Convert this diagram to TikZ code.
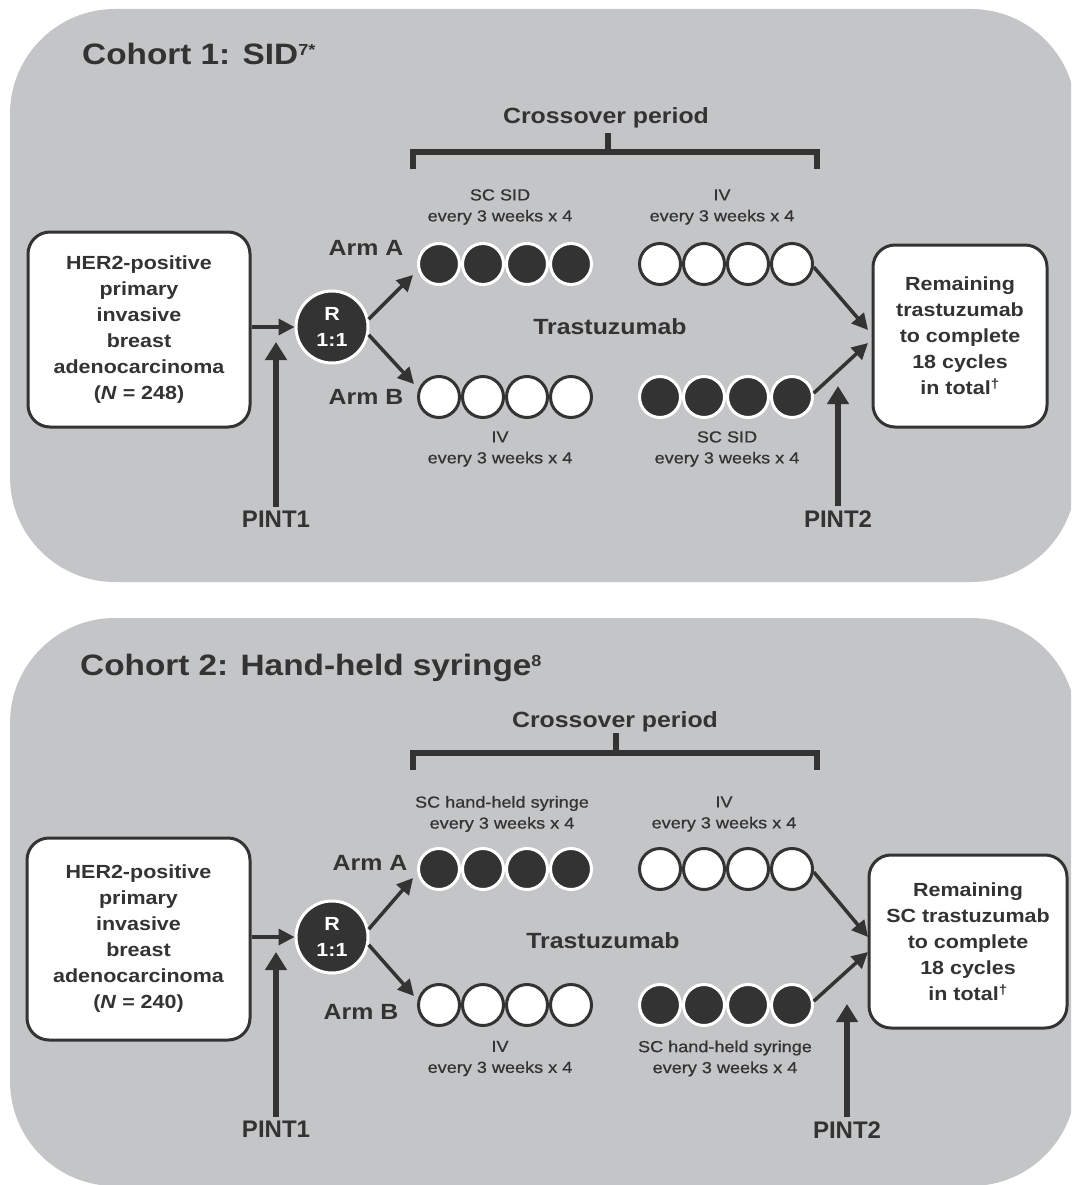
\documentclass[tikz,border=0pt]{standalone}
\usepackage{fontspec}
\setmainfont[FakeStretch=1.13]{Liberation Sans}
\newfontfamily\pintfont{Liberation Sans}
\newfontfamily\medfont[FakeStretch=1.13,FakeBold=0.7]{Liberation Sans}
\usetikzlibrary{arrows.meta}
\definecolor{panel}{RGB}{196,197,199}
\definecolor{ink}{RGB}{51,51,51}
\newcommand{\supsmall}[1]{\raisebox{9pt}{\fontsize{16}{16}\selectfont #1}}
\begin{document}
\begin{tikzpicture}[x=1pt,y=-1pt,
  every node/.style={text=ink},
  title/.style={font=\fontsize{29.5}{34}\selectfont\bfseries, anchor=base west, inner sep=0pt},
  cross/.style={font=\fontsize{22}{26}\selectfont\bfseries},
  arm/.style={font=\fontsize{22}{26}\selectfont\bfseries},
  small/.style={font=\medfont\fontsize{16}{21}\selectfont, align=center},
  boxtxt/.style={draw=ink, line width=3pt, fill=white, rounded corners=22pt, align=center, inner sep=0pt, font=\fontsize{19}{26}\selectfont\bfseries},
  rnode/.style={circle, fill=ink, draw=white, line width=3pt, minimum size=72pt, inner sep=0pt, align=center, text=white, font=\fontsize{19}{26}\selectfont\bfseries},
  dosefull/.style={circle, fill=ink, draw=white, line width=3pt, minimum size=41pt, inner sep=0pt},
  doseopen/.style={circle, fill=white, draw=ink, line width=3pt, minimum size=41pt, inner sep=0pt},
  conn/.style={draw=ink, line width=3.5pt, -{Triangle[length=16pt,width=16pt]}},
  pintarr/.style={draw=ink, line width=6pt, -{Triangle[length=18pt,width=21pt]}},
  pint/.style={font=\pintfont\fontsize{24}{28}\selectfont\bfseries, inner sep=4pt},
  brk/.style={draw=ink, line width=6pt},
]
\clip (0,0) rectangle (1071,1185);
\fill[white] (0,0) rectangle (1071,1185);

% ================= Cohort 1 =================
\fill[panel, rounded corners=105pt] (10,9) rectangle (1076,582);
\node[title] (t1) at (82,65) {Cohort 1: SID\supsmall{7*}};
\node[cross] (cp1) at (606,118) {Crossover period};
\draw[brk] (413,169) -- (413,152) -- (817,152) -- (817,169);
\draw[brk] (608,152) -- (608,133);

\node[boxtxt, minimum width=222pt, minimum height=195pt] (her1) at (139,329.5)
  {HER2-positive\\primary\\invasive\\breast\\adenocarcinoma\\(\textit{N} = 248)};
\node[rnode] (r1) at (332,327) {R\\1:1};
\node[boxtxt, minimum width=174pt, minimum height=182pt] (rem1) at (960,336)
  {Remaining\\trastuzumab\\to complete\\18 cycles\\in total\textsuperscript{†}};

\node[arm] (armA1) at (366,248) {Arm A};
\node[arm] (armB1) at (366,397) {Arm B};
\node[arm] (tr1) at (610,327) {Trastuzumab};

\foreach \i in {1,...,4} {
  \node[dosefull] (c1a\i) at ({395+44*\i},264) {};
  \node[doseopen] (c1b\i) at ({616+44*\i},264) {};
  \node[doseopen] (c1c\i) at ({395+44*\i},397) {};
  \node[dosefull] (c1d\i) at ({616+44*\i},397) {};
}
\node[small] (l1a) at (500,207) {SC SID\\every 3 weeks x 4};
\node[small] (l1b) at (722,207) {IV\\every 3 weeks x 4};
\node[small] (l1c) at (500,449) {IV\\every 3 weeks x 4};
\node[small] (l1d) at (727,449) {SC SID\\every 3 weeks x 4};

\coordinate (tA1) at (413,275);
\coordinate (tB1) at (414,384);
\coordinate (tR1a) at (868,330);
\coordinate (tR1b) at (868,343);
\coordinate (p1tip) at (276,342);
\coordinate (p2tip) at (838,386);
\draw[conn] (her1.east |- r1.west) -- (r1.west);
\draw[conn] (r1.12) -- (tA1);
\draw[conn] (r1.-12) -- (tB1);
\draw[conn] (c1b4.-8) -- (tR1a);
\draw[conn] (c1d4.10) -- (tR1b);

\node[pint] (pint11) at (276,519) {PINT1};
\node[pint] (pint12) at (838,519) {PINT2};
\draw[pintarr] (pint11.north) -- (p1tip);
\draw[pintarr] (pint12.north) -- (p2tip);

% ================= Cohort 2 =================
\fill[panel, rounded corners=105pt] (10,618) rectangle (1076,1186);
\node[title] (t2) at (80,675) {Cohort 2: Hand-held syringe\supsmall{8}};
\node[cross] (cp2) at (615,722) {Crossover period};
\draw[brk] (413,770) -- (413,753) -- (817,753) -- (817,770);
\draw[brk] (616,753) -- (616,733);

\node[boxtxt, minimum width=223pt, minimum height=202pt] (her2) at (138.5,939)
  {HER2-positive\\primary\\invasive\\breast\\adenocarcinoma\\(\textit{N} = 240)};
\node[rnode] (r2) at (332,937) {R\\1:1};
\node[boxtxt, minimum width=198pt, minimum height=173pt] (rem2) at (968,941.5)
  {Remaining\\SC trastuzumab\\to complete\\18 cycles\\in total\textsuperscript{†}};

\node[arm] (armA2) at (370,863) {Arm A};
\node[arm] (armB2) at (361,1012) {Arm B};
\node[arm] (tr2) at (603,941) {Trastuzumab};

\foreach \i in {1,...,4} {
  \node[dosefull] (c2a\i) at ({395+44*\i},869) {};
  \node[doseopen] (c2b\i) at ({616+44*\i},869) {};
  \node[doseopen] (c2c\i) at ({395+44*\i},1005) {};
  \node[dosefull] (c2d\i) at ({616+44*\i},1005) {};
}
\node[small] (l2a) at (502,814) {SC hand-held syringe\\every 3 weeks x 4};
\node[small] (l2b) at (724,814) {IV\\every 3 weeks x 4};
\node[small] (l2c) at (500,1058.5) {IV\\every 3 weeks x 4};
\node[small] (l2d) at (725,1058.5) {SC hand-held syringe\\every 3 weeks x 4};

\coordinate (tA2) at (413,878);
\coordinate (tB2) at (414,996);
\coordinate (tR2a) at (868,937);
\coordinate (tR2b) at (868,952);
\coordinate (q1tip) at (276,952);
\coordinate (q2tip) at (847,1004);
\draw[conn] (her2.east |- r2.west) -- (r2.west);
\draw[conn] (r2.12) -- (tA2);
\draw[conn] (r2.-12) -- (tB2);
\draw[conn] (c2b4.-8) -- (tR2a);
\draw[conn] (c2d4.10) -- (tR2b);

\node[pint] (pint21) at (276,1129) {PINT1};
\node[pint] (pint22) at (847,1130) {PINT2};
\draw[pintarr] (pint21.north) -- (q1tip);
\draw[pintarr] (pint22.north) -- (q2tip);
\end{tikzpicture}
\end{document}
